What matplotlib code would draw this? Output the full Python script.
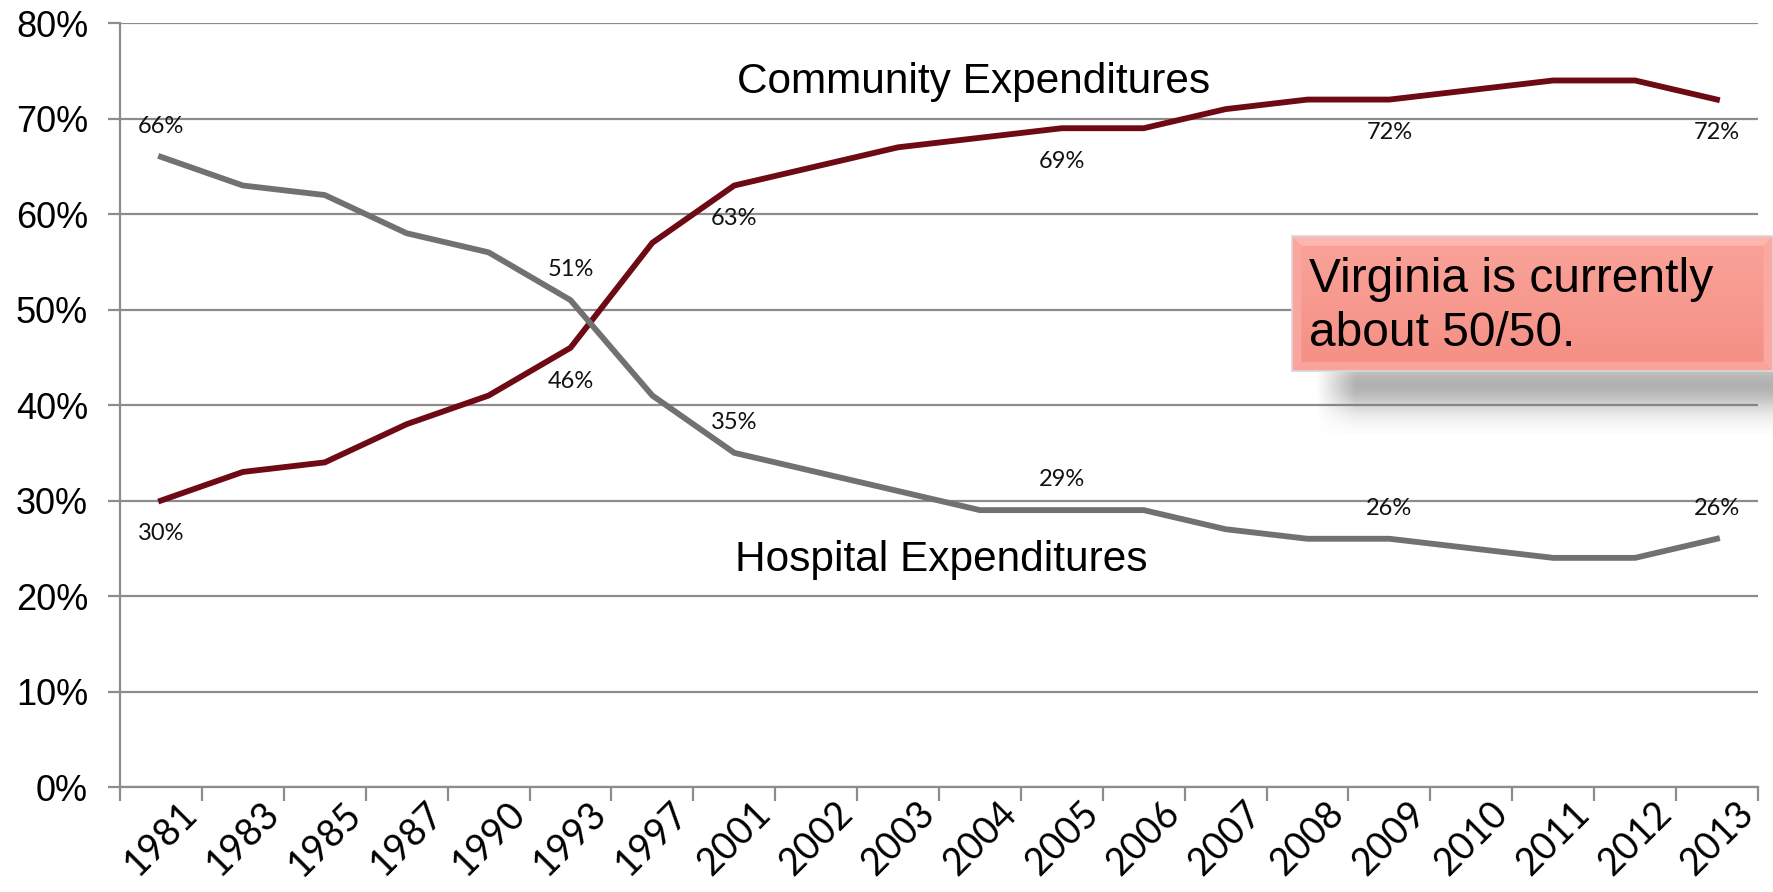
import numpy as np
import matplotlib
matplotlib.use("Agg")
from matplotlib import pyplot as plt
from matplotlib.patches import Polygon

years = ["1981", "1983", "1985", "1987", "1990", "1993", "1997", "2001", "2002", "2003",
         "2004", "2005", "2006", "2007", "2008", "2009", "2010", "2011", "2012", "2013"]
community = [30, 33, 34, 38, 41, 46, 57, 63, 65, 67, 68, 69, 69, 71, 72, 72, 73, 74, 74, 72]
hospital = [66, 63, 62, 58, 56, 51, 41, 35, 33, 31, 29, 29, 29, 27, 26, 26, 25, 24, 24, 26]
labelled = ["1981", "1993", "2001", "2005", "2009", "2013"]
yticks = [0, 10, 20, 30, 40, 50, 60, 70, 80]

maroon = "#6E0A14"
gray = "#717171"
gridc = "#8C8C8C"

fig = plt.figure(figsize=(17.73, 8.92), dpi=100)
ax = fig.add_axes([0.0677, 0.1177, 0.9238, 0.8563])

x = np.arange(len(years))
ax.plot(x, community, color=maroon, lw=4.2, solid_joinstyle="miter", zorder=3)
ax.plot(x, hospital, color=gray, lw=4.2, solid_joinstyle="miter", zorder=3)

# data labels
for i, yr in enumerate(years):
    if yr in labelled:
        ax.annotate(f"{community[i]}%", (i, community[i]), xytext=(0, -24), textcoords="offset points",
                    ha="center", va="center", fontsize=17, family="Lato", color="#111111")
        ax.annotate(f"{hospital[i]}%", (i, hospital[i]), xytext=(0, 22), textcoords="offset points",
                    ha="center", va="center", fontsize=17, family="Lato", color="#111111")

ax.text(9.92, 73.8, "Community Expenditures", ha="center", va="center", fontsize=30.5,
        family="Liberation Sans", color="black")
ax.text(9.53, 23.8, "Hospital Expenditures", ha="center", va="center", fontsize=30.5,
        family="Liberation Sans", color="black")

ax.set_xlim(-0.5, len(years) - 0.5)
ax.set_ylim(0, 80)
ax.set_yticks(yticks)
ax.set_yticklabels([f"{v}%" for v in yticks], fontsize=26, family="Liberation Sans")
ax.yaxis.grid(True, color=gridc, lw=1.6)
ax.set_axisbelow(True)

# category boundaries get tick marks, labels sit at the centres
ax.set_xticks(np.arange(-0.5, len(years), 1.0))
ax.set_xticklabels([])
ax.set_xticks(x, minor=True)
ax.set_xticklabels(years, minor=True, rotation=45, ha="center", fontsize=27, family="Lato")
ax.tick_params(axis="x", which="major", length=10, width=1.6, color=gridc, direction="out")
ax.tick_params(axis="x", which="minor", length=0, pad=6)
ax.tick_params(axis="y", length=9, width=1.6, color=gridc, pad=14)

for s in ["top", "right"]:
    ax.spines[s].set_visible(False)
for s in ["left", "bottom"]:
    ax.spines[s].set_color(gridc)
    ax.spines[s].set_linewidth(1.6)

# callout box with soft shadow underneath
bx, by, bw, bh = 0.7287, 0.584, 0.2713, 0.151
sax = fig.add_axes([bx + 0.008, by - 0.07, bw, 0.11], zorder=5)
sy = np.linspace(-1, 1, 60)
sx = np.linspace(0, 1, 200)
ay = np.exp(-(sy / 0.55) ** 2)
axx = np.clip((sx - 0.02) / 0.08, 0, 1)
alpha = 0.55 * ay[:, None] * axx[None, :]
shadow = np.zeros((60, 200, 4))
shadow[..., :3] = 0.45
shadow[..., 3] = alpha
sax.imshow(shadow, extent=[0, 1, 0, 1], aspect="auto")
sax.axis("off")

bax = fig.add_axes([bx, by, bw, bh], zorder=6)
grad = np.linspace(0, 1, 64)[:, None]
c_top = np.array([0.98, 0.64, 0.60])
c_bot = np.array([0.96, 0.56, 0.52])
img = c_top[None, None, :] * (1 - grad[:, :, None]) + c_bot[None, None, :] * grad[:, :, None]
bax.imshow(img, extent=[0, 1, 0, 1], aspect="auto")
e = 0.07
ew = e * bh * 892 / (bw * 1773)
bax.add_patch(Polygon([[0, 1], [1, 1], [1 - ew, 1 - e], [ew, 1 - e]], facecolor="#FCB6AF", edgecolor="none"))
bax.add_patch(Polygon([[0, 0], [1, 0], [1 - ew, e], [ew, e]], facecolor="#F8A39B", edgecolor="none"))
bax.add_patch(Polygon([[0, 0], [0, 1], [ew, 1 - e], [ew, e]], facecolor="#F9A69E", edgecolor="none"))
bax.add_patch(Polygon([[1, 0], [1, 1], [1 - ew, 1 - e], [1 - ew, e]], facecolor="#FAA9A1", edgecolor="none"))
bax.set_xlim(0, 1)
bax.set_ylim(0, 1)
bax.set_xticks([])
bax.set_yticks([])
for s in bax.spines.values():
    s.set_color("#D9D9D9")
    s.set_linewidth(1.2)
bax.text(0.035, 0.48, "Virginia is currently\nabout 50/50.", ha="left", va="center",
         fontsize=34.5, family="Liberation Sans", color="black", linespacing=1.25)

fig.savefig("out.png", dpi=100)
